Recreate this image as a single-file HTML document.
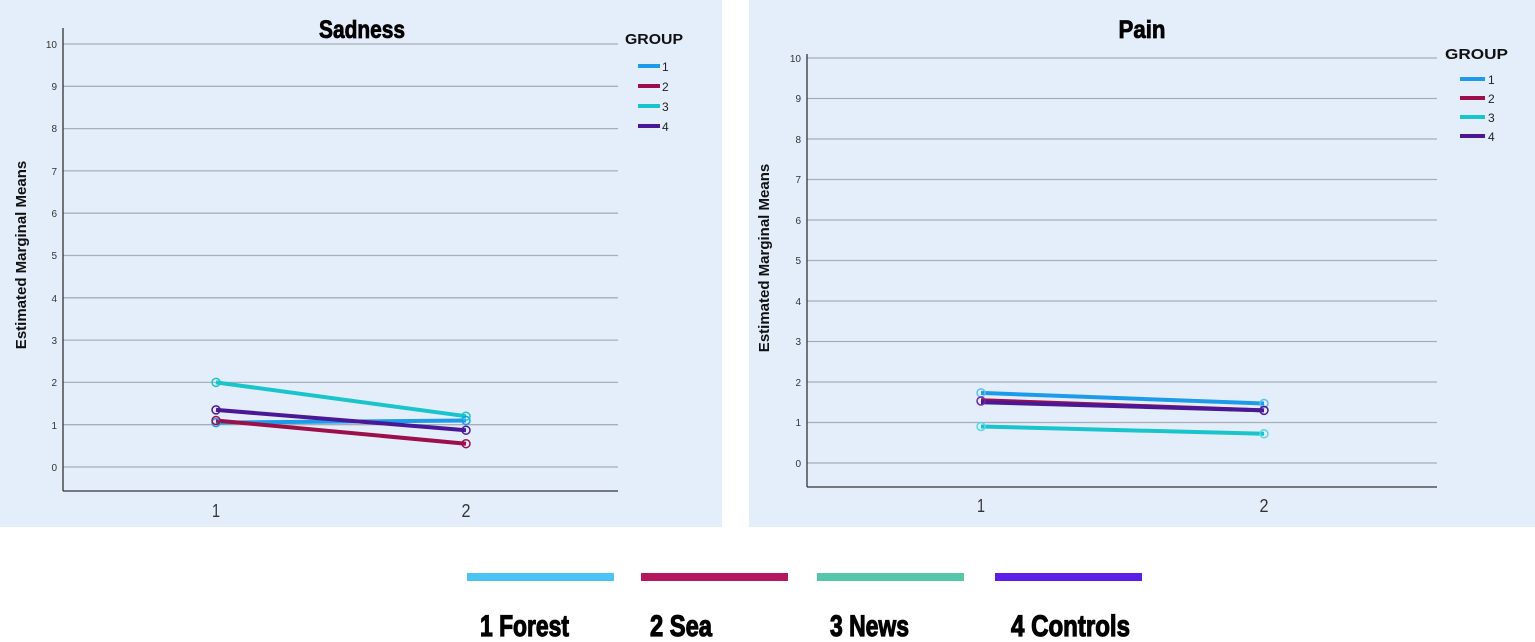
<!DOCTYPE html>
<html><head><meta charset="utf-8"><style>
html,body{margin:0;padding:0;background:#fff;}
svg{display:block;font-family:"Liberation Sans",sans-serif;}
</style></head><body>
<svg width="1535" height="642" viewBox="0 0 1535 642" xmlns="http://www.w3.org/2000/svg">
<!-- Left panel -->
<rect x="0" y="0" width="722" height="527" fill="#e4eefb"/>
<g stroke="#a9adb5" stroke-width="1.3">
<line x1="63" x2="618" y1="44" y2="44"/><line x1="63" x2="618" y1="86.3" y2="86.3"/><line x1="63" x2="618" y1="128.6" y2="128.6"/><line x1="63" x2="618" y1="170.9" y2="170.9"/><line x1="63" x2="618" y1="213.2" y2="213.2"/><line x1="63" x2="618" y1="255.5" y2="255.5"/><line x1="63" x2="618" y1="297.8" y2="297.8"/><line x1="63" x2="618" y1="340.1" y2="340.1"/><line x1="63" x2="618" y1="382.4" y2="382.4"/><line x1="63" x2="618" y1="424.7" y2="424.7"/><line x1="63" x2="618" y1="467" y2="467"/>
</g>
<line x1="63" y1="28" x2="63" y2="491" stroke="#333" stroke-width="1.3"/>
<line x1="63" y1="491" x2="618" y2="491" stroke="#333" stroke-width="1.3"/>
<g font-size="10" fill="#333" text-anchor="end">
<text x="57" y="48">10</text><text x="57" y="90">9</text><text x="57" y="132">8</text><text x="57" y="175">7</text><text x="57" y="217">6</text><text x="57" y="259">5</text><text x="57" y="302">4</text><text x="57" y="344">3</text><text x="57" y="386">2</text><text x="57" y="429">1</text><text x="57" y="471">0</text>
</g>
<g font-size="18" fill="#333" text-anchor="middle"><text x="216" y="517" textLength="8" lengthAdjust="spacingAndGlyphs">1</text><text x="466" y="517" textLength="9" lengthAdjust="spacingAndGlyphs">2</text></g>
<text transform="translate(26,255) rotate(-90)" font-size="15" font-weight="bold" text-anchor="middle" fill="#111">Estimated Marginal Means</text>
<text x="362" y="38" font-size="25" font-weight="bold" text-anchor="middle" textLength="86" lengthAdjust="spacingAndGlyphs" fill="#000" stroke="#000" stroke-width="0.8">Sadness</text>
<text x="625" y="44" font-size="15" font-weight="bold" fill="#111" textLength="58" lengthAdjust="spacingAndGlyphs">GROUP</text>
<g stroke-width="4">
<line x1="638" x2="660" y1="66" y2="66" stroke="#1e9be8"/><line x1="638" x2="660" y1="86" y2="86" stroke="#9b0f4a"/><line x1="638" x2="660" y1="106" y2="106" stroke="#19c4cc"/><line x1="638" x2="660" y1="126" y2="126" stroke="#4a1896"/>
</g>
<g font-size="12" fill="#222"><text x="662" y="71">1</text><text x="662" y="91">2</text><text x="662" y="111">3</text><text x="662" y="131">4</text></g>
<g stroke-width="4" fill="none">
<line x1="216" y1="422.6" x2="466" y2="420.5" stroke="#1e9be8"/>
<line x1="216" y1="420.5" x2="466" y2="443.7" stroke="#9b0f4a"/>
<line x1="216" y1="382.4" x2="466" y2="416.2" stroke="#19c4cc"/>
<line x1="216" y1="409.9" x2="466" y2="430.2" stroke="#4a1896"/>
</g>
<g fill="none" stroke-width="1.5">
<circle cx="216" cy="422.6" r="4" stroke="#1e9be8"/><circle cx="466" cy="420.5" r="4" stroke="#1e9be8"/>
<circle cx="216" cy="420.5" r="4" stroke="#9b0f4a"/><circle cx="466" cy="443.7" r="4" stroke="#9b0f4a"/>
<circle cx="216" cy="382.4" r="4" stroke="#19c4cc"/><circle cx="466" cy="416.2" r="4" stroke="#19c4cc"/>
<circle cx="216" cy="409.9" r="4" stroke="#4a1896"/><circle cx="466" cy="430.2" r="4" stroke="#4a1896"/>
</g>

<!-- Right panel -->
<rect x="749" y="0" width="786" height="527" fill="#e4eefb"/>
<g stroke="#a9adb5" stroke-width="1.3">
<line x1="807" x2="1437" y1="58" y2="58"/><line x1="807" x2="1437" y1="98.5" y2="98.5"/><line x1="807" x2="1437" y1="139" y2="139"/><line x1="807" x2="1437" y1="179.5" y2="179.5"/><line x1="807" x2="1437" y1="220" y2="220"/><line x1="807" x2="1437" y1="260.5" y2="260.5"/><line x1="807" x2="1437" y1="301" y2="301"/><line x1="807" x2="1437" y1="341.5" y2="341.5"/><line x1="807" x2="1437" y1="382" y2="382"/><line x1="807" x2="1437" y1="422.5" y2="422.5"/><line x1="807" x2="1437" y1="463" y2="463"/>
</g>
<line x1="807" y1="54" x2="807" y2="487" stroke="#333" stroke-width="1.3"/>
<line x1="807" y1="487" x2="1437" y2="487" stroke="#333" stroke-width="1.3"/>
<g font-size="10" fill="#333" text-anchor="end">
<text x="801" y="62">10</text><text x="801" y="102">9</text><text x="801" y="143">8</text><text x="801" y="183">7</text><text x="801" y="224">6</text><text x="801" y="264">5</text><text x="801" y="305">4</text><text x="801" y="345">3</text><text x="801" y="386">2</text><text x="801" y="426">1</text><text x="801" y="467">0</text>
</g>
<g font-size="18" fill="#333" text-anchor="middle"><text x="981" y="512" textLength="8" lengthAdjust="spacingAndGlyphs">1</text><text x="1264" y="512" textLength="9" lengthAdjust="spacingAndGlyphs">2</text></g>
<text transform="translate(769,258) rotate(-90)" font-size="15" font-weight="bold" text-anchor="middle" fill="#111">Estimated Marginal Means</text>
<text x="1142" y="38" font-size="25" font-weight="bold" text-anchor="middle" textLength="47" lengthAdjust="spacingAndGlyphs" fill="#000" stroke="#000" stroke-width="0.8">Pain</text>
<text x="1445" y="59" font-size="15" font-weight="bold" fill="#111" textLength="63" lengthAdjust="spacingAndGlyphs">GROUP</text>
<g stroke-width="4">
<line x1="1460" x2="1485" y1="79" y2="79" stroke="#1e9be8"/><line x1="1460" x2="1485" y1="98" y2="98" stroke="#9b0f4a"/><line x1="1460" x2="1485" y1="117" y2="117" stroke="#19c4cc"/><line x1="1460" x2="1485" y1="136" y2="136" stroke="#4a1896"/>
</g>
<g font-size="12" fill="#222"><text x="1488" y="84">1</text><text x="1488" y="103">2</text><text x="1488" y="122">3</text><text x="1488" y="141">4</text></g>
<g stroke-width="4" fill="none">
<line x1="981" y1="392.9" x2="1264" y2="403.5" stroke="#1e9be8"/>
<line x1="981" y1="400.2" x2="1264" y2="410.4" stroke="#9b0f4a"/>
<line x1="981" y1="426.5" x2="1264" y2="433.8" stroke="#19c4cc"/>
<line x1="981" y1="402.2" x2="1264" y2="410.4" stroke="#4a1896"/>
</g>
<g fill="none" stroke-width="1.5">
<circle cx="981" cy="392.9" r="4" stroke="#5bc0f0"/><circle cx="1264" cy="403.5" r="4" stroke="#5bc0f0"/>
<circle cx="981" cy="401" r="4" stroke="#6a2aa6"/><circle cx="1264" cy="410.4" r="4" stroke="#4a1896"/>
<circle cx="981" cy="426.5" r="4" stroke="#55d8e0"/><circle cx="1264" cy="433.8" r="4" stroke="#55d8e0"/>
</g>

<!-- Bottom legend -->
<rect x="467" y="573" width="147" height="8" fill="#4cc3f5"/>
<rect x="641" y="573" width="147" height="8" fill="#b5175e"/>
<rect x="817" y="573" width="147" height="8" fill="#55c6a8"/>
<rect x="995" y="573" width="147" height="8" fill="#5b1de8"/>
<g font-size="30" font-weight="bold" fill="#000" stroke="#000" stroke-width="1.2">
<text x="480" y="636" textLength="89" lengthAdjust="spacingAndGlyphs">1 Forest</text>
<text x="650" y="636" textLength="62" lengthAdjust="spacingAndGlyphs">2 Sea</text>
<text x="830" y="636" textLength="79" lengthAdjust="spacingAndGlyphs">3 News</text>
<text x="1011" y="636" textLength="119" lengthAdjust="spacingAndGlyphs">4 Controls</text>
</g>
</svg>
</body></html>
